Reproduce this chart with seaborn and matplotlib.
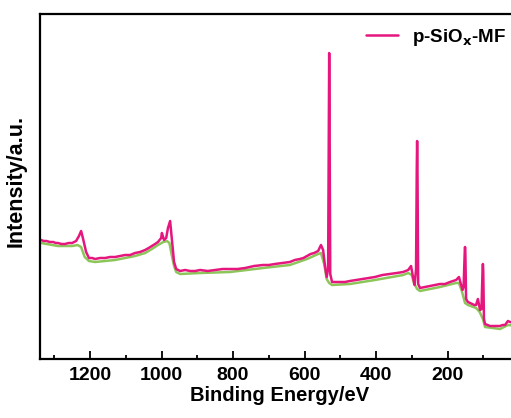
import numpy as np
import pandas as pd
import matplotlib
matplotlib.use("Agg")
import matplotlib.pyplot as plt
import seaborn as sns

# XPS survey spectrum of p-SiOx-MF (binding energy in eV, intensity in a.u.)
energy_sample = [1337, 1330, 1322, 1312, 1303, 1296, 1290, 1280, 1270, 1260, 1250,
                 1239, 1231, 1225, 1220, 1211, 1203, 1194, 1186, 1172, 1158, 1144,
                 1130, 1116, 1102, 1088, 1074, 1060, 1046, 1036, 1027, 1018, 1010,
                 1001, 999, 993, 987, 982, 976, 971, 965, 959, 948, 934, 920, 906,
                 892, 871, 850, 829, 808, 787, 766, 741, 716, 700, 683, 662, 641,
                 627, 613, 603, 593, 583, 573, 562, 554, 548, 543, 538, 534, 532,
                 531, 530, 528, 523, 512, 501, 487, 473, 455, 436, 420, 403, 382,
                 361, 342, 324, 310, 302, 296, 292, 288, 286, 285, 284, 282, 277,
                 263, 249, 235, 221, 207, 193, 184, 176, 168, 162, 158, 155, 152,
                 151, 150, 148, 143, 137, 131, 125, 120, 115, 109, 105, 102, 101,
                 100, 98, 95, 88, 81, 67, 53, 46, 39, 31, 25, 15, 5]
intensity_sample = [119, 118, 118, 117, 117, 116, 116, 115, 115, 116, 116,
                    118, 123, 128, 121, 107, 101, 101, 100, 101, 101, 102,
                    102, 103, 104, 104, 106, 107, 109, 111, 113, 115, 117,
                    121, 126, 119, 121, 131, 138, 119, 97, 90, 88, 89, 88, 88,
                    89, 88, 89, 90, 90, 90, 91, 93, 94, 94, 95, 96, 97,
                    99, 100, 101, 103, 105, 106, 108, 114, 109, 94, 82, 90, 250,
                    306, 250, 85, 77, 77, 77, 77, 78, 79, 80, 81, 82, 84,
                    85, 86, 87, 89, 93, 81, 74, 90, 190, 218, 190, 75, 71,
                    72, 73, 74, 75, 75, 77, 78, 79, 82, 74, 69, 72, 105,
                    112, 105, 60, 57, 56, 55, 54, 54, 60, 49, 50, 88, 95,
                    88, 40, 35, 34, 33, 33, 33, 34, 34, 38, 37, 36, 36]

# Background trace drawn beneath the spectrum
energy_bg = [1337, 1290, 1250, 1235, 1225, 1215, 1203, 1186, 1130, 1074, 1046,
             1027, 1010, 995, 985, 978, 972, 965, 959, 948, 892, 808, 716, 641,
             593, 562, 554, 545, 538, 531, 523, 473, 403, 324, 310, 300, 294,
             285, 277, 221, 176, 168, 160, 151, 143, 120, 110, 101, 95, 53, 31, 5]
intensity_bg = [116, 113, 113, 114, 112, 102, 98, 97, 99, 103, 106,
                110, 114, 117, 118, 116, 105, 93, 87, 85, 86, 87, 91, 94,
                100, 105, 106, 95, 80, 76, 74, 75, 79, 84, 86, 84, 76,
                70, 68, 72, 76, 76, 68, 56, 54, 51, 47, 40, 32, 30, 34, 33]

x_ticks = [1200, 1000, 800, 600, 400, 200]
series_label = r"p-SiO$_\mathbf{x}$-MF"

sample_df = pd.DataFrame({"energy": energy_sample, "intensity": intensity_sample})
bg_df = pd.DataFrame({"energy": energy_bg, "intensity": intensity_bg})

sns.set_style("ticks")
plt.rcParams["font.family"] = ["Liberation Sans", "DejaVu Sans"]
plt.rcParams["font.weight"] = "bold"
plt.rcParams["mathtext.default"] = "bf"
plt.rcParams["text.color"] = "black"
plt.rcParams["axes.labelcolor"] = "black"
plt.rcParams["xtick.color"] = "black"
plt.rcParams["axes.edgecolor"] = "black"

fig = plt.figure(figsize=(5.11, 4.18), dpi=100)
ax = fig.add_axes([40 / 511, 59 / 418, 479 / 511, 345 / 418])

pink = "#e5177f"
green = "#8cc65a"

sns.lineplot(data=bg_df, x="energy", y="intensity", ax=ax, color=green,
             linewidth=1.8, sort=False, estimator=None)
sns.lineplot(data=sample_df, x="energy", y="intensity", ax=ax, color=pink,
             linewidth=1.8, sort=False, estimator=None, label=series_label)

ax.set_xlim(1340, 0)
ax.set_ylim(0, 345)
ax.set_xticks(x_ticks)
ax.set_xticks(np.arange(1300, 0, -100), minor=True)
ax.set_yticks([])
ax.tick_params(axis="x", which="major", direction="in", length=6, width=1.3,
               labelsize=14, pad=6, colors="black")
ax.tick_params(axis="x", which="minor", direction="in", length=3, width=1.3)
for lbl in ax.get_xticklabels():
    lbl.set_fontweight("bold")
for side in ["left", "right", "top", "bottom"]:
    ax.spines[side].set_linewidth(1.6)
    ax.spines[side].set_color("black")

ax.set_xlabel("Binding Energy/eV", fontsize=14.5, fontweight="bold", labelpad=1)
ax.set_ylabel("Intensity/a.u.", fontsize=15.5, fontweight="bold")
ax.yaxis.set_label_coords(-0.028, 0.516)

leg = ax.legend(loc="upper left", bbox_to_anchor=(358 / 511, 1 - 19 / 418),
                bbox_transform=fig.transFigure, frameon=False, fontsize=13.5,
                handlelength=1.75, handletextpad=0.75, borderaxespad=0)
for t in leg.get_texts():
    t.set_fontweight("bold")
    t.set_color("black")

fig.savefig("out.png", dpi=100)
